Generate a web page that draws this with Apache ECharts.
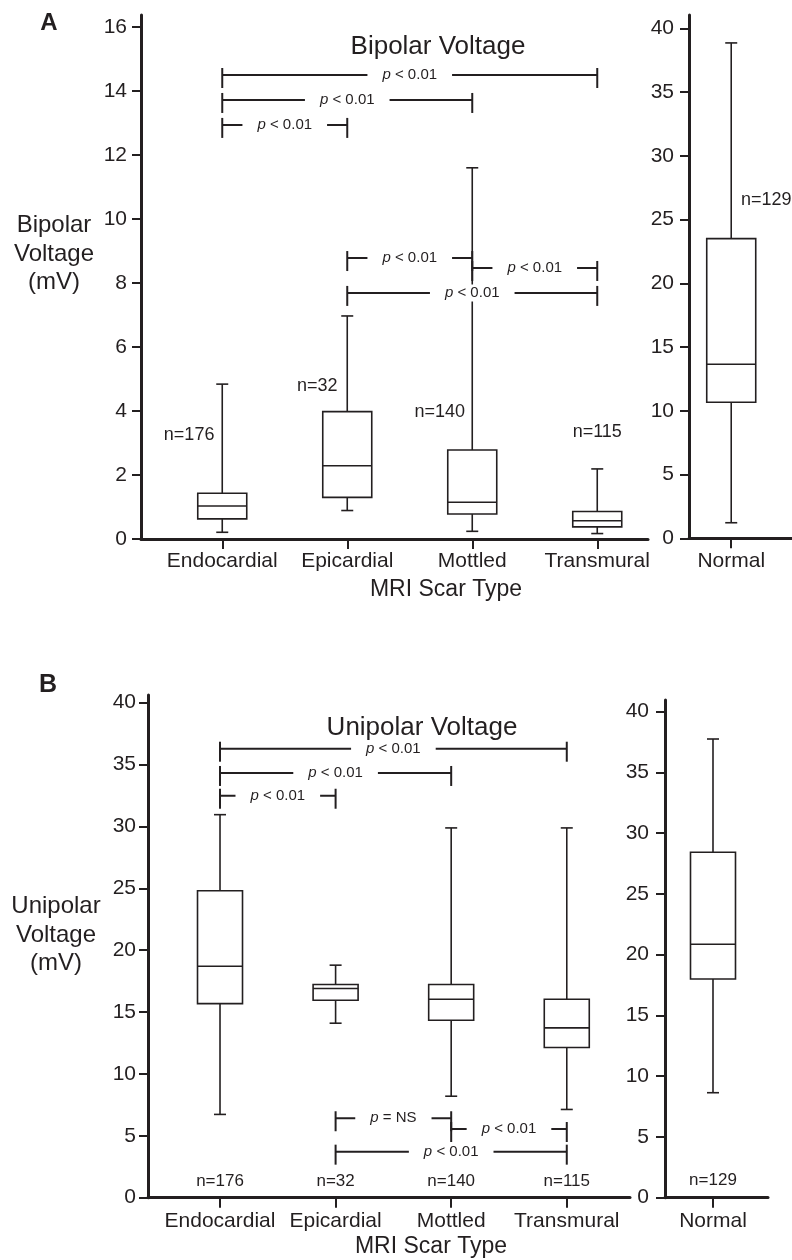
<!DOCTYPE html>
<html>
<head>
<meta charset="utf-8">
<script src="https://cdn.jsdelivr.net/npm/echarts@6/dist/echarts.min.js"></script>
<style>
html, body { margin: 0; padding: 0; background: #fff; }
#chart { width: 792px; height: 1260px; }
</style>
</head>
<body>
<div id="chart"></div>
<script>
// categories
const scarTypes = ['Endocardial', 'Epicardial', 'Mottled', 'Transmural']
const normalType = ['Normal']

// box values: [min, Q1, median, Q3, max]
const bipolarScar = [
    [0.21, 0.63, 1.03, 1.43, 4.84],
    [0.89, 1.30, 2.29, 3.98, 6.97],
    [0.24, 0.78, 1.15, 2.78, 11.6],
    [0.17, 0.38, 0.57, 0.86, 2.19]
]
const bipolarNormal = [1.22, 10.67, 13.65, 23.5, 38.85]

const unipolarScar = [
    [6.73, 15.68, 18.7, 24.8, 30.95],
    [14.1, 15.95, 16.91, 17.23, 18.79],
    [8.2, 14.34, 16.03, 17.23, 29.88],
    [7.13, 12.14, 13.72, 16.03, 29.88]
]
const unipolarNormal = [8.64, 18.0, 20.86, 28.43, 37.75]

// sample sizes
const scarCounts = [176, 32, 140, 115]
const normalCount = [129]

// pairwise tests: [from category, to category, bracket level, result]
const bipolarTests = [
    [1, 4, 14.5, '< 0.01'],
    [1, 3, 13.72, '< 0.01'],
    [1, 2, 12.94, '< 0.01'],
    [2, 3, 8.78, '< 0.01'],
    [3, 4, 8.47, '< 0.01'],
    [2, 4, 7.69, '< 0.01']
]
const unipolarTests = [
    [1, 4, 36.28, '< 0.01'],
    [1, 3, 34.32, '< 0.01'],
    [1, 2, 32.48, '< 0.01'],
    [2, 3, 6.42, '= NS'],
    [3, 4, 5.55, '< 0.01'],
    [2, 4, 3.72, '< 0.01']
]

// tick labels
const bipolarTicks = [0, 2, 4, 6, 8, 10, 12, 14, 16]
const voltageTicks = [0, 5, 10, 15, 20, 25, 30, 35, 40]

// layout: category positions on the x scales and where the n= labels sit
const scarPos = [1, 2, 3, 4]
const normalPosA = [0.41]
const normalPosB = [0.466]
const bipolarCountPos = [[0.735, 3.25], [1.76, 4.78], [2.74, 3.98], [4.0, 3.33]]
const bipolarNormalCountPos = [[0.75, 26.5]]
const unipolarCountPos = [[1, 1.3], [2, 1.3], [3, 1.3], [4, 1.3]]
const unipolarNormalCountPos = [[0.466, 1.46]]

const INK = '#231f20'
const FONT = '"Liberation Sans", Arial, Helvetica, sans-serif'

const boxItem = (boxWidth) => (params, api) => {
    const x = api.value(0)
    const p = [1, 2, 3, 4, 5].map(d => api.coord([x, api.value(d)]))
    const cx = p[0][0]
    const hw = boxWidth / 2
    const cap = 6
    const st = { stroke: INK, lineWidth: 1.6 }
    const seg = (x1, y1, x2, y2) => ({ type: 'line', shape: { x1, y1, x2, y2 }, style: st })
    return {
        type: 'group',
        children: [
            seg(cx, p[0][1], cx, p[1][1]),
            seg(cx, p[3][1], cx, p[4][1]),
            seg(cx - cap, p[0][1], cx + cap, p[0][1]),
            seg(cx - cap, p[4][1], cx + cap, p[4][1]),
            {
                type: 'rect',
                shape: { x: cx - hw, y: p[3][1], width: boxWidth, height: p[1][1] - p[3][1] },
                style: { fill: '#fff', stroke: INK, lineWidth: 1.6 }
            },
            seg(cx - hw, p[2][1], cx + hw, p[2][1])
        ]
    }
}

const bracketItem = (tests) => (params, api) => {
    const a = api.coord([api.value(0), api.value(2)])
    const b = api.coord([api.value(1), api.value(2)])
    const st = { stroke: INK, lineWidth: 2 }
    const seg = (x1, y1, x2, y2) => ({ type: 'line', shape: { x1, y1, x2, y2 }, style: st })
    return {
        type: 'group',
        children: [
            seg(a[0], a[1], b[0], b[1]),
            seg(a[0], a[1] - 7, a[0], a[1] + 13),
            seg(b[0], b[1] - 7, b[0], b[1] + 13),
            {
                type: 'text',
                x: (a[0] + b[0]) / 2,
                y: a[1],
                style: {
                    text: '{i|p} ' + tests[params.dataIndex][3],
                    fill: INK,
                    fontSize: 15,
                    fontFamily: FONT,
                    align: 'center',
                    verticalAlign: 'middle',
                    textAlign: 'center',
                    textVerticalAlign: 'middle',
                    backgroundColor: '#fff',
                    padding: [1, 15],
                    rich: { i: { fontStyle: 'italic', fontSize: 15, fontFamily: FONT, fill: INK } }
                }
            }
        ]
    }
}

const countItem = (counts, size) => (params, api) => {
    const p = api.coord([api.value(0), api.value(1)])
    return {
        type: 'text',
        x: p[0],
        y: p[1],
        style: {
            text: 'n=' + counts[params.dataIndex],
            fill: INK,
            fontSize: size,
            fontFamily: FONT,
            align: 'center',
            verticalAlign: 'middle',
            textAlign: 'center',
            textVerticalAlign: 'middle'
        }
    }
}

const xAxisCfg = (gridIndex, min, max, pos, names, margin) => ({
    type: 'value', gridIndex, min, max,
    axisLine: { onZero: false, lineStyle: { color: INK, width: 3 } },
    axisTick: { customValues: pos, length: 10, lineStyle: { color: INK, width: 2 } },
    axisLabel: {
        customValues: pos, margin, color: INK, fontSize: 21, fontFamily: FONT,
        formatter: v => {
            let k = 0
            pos.forEach((q, i) => { if (Math.abs(q - v) < Math.abs(pos[k] - v)) k = i })
            return names[k]
        }
    },
    splitLine: { show: false }
})

const yAxisCfg = (gridIndex, max, ticks, margin) => ({
    type: 'value', gridIndex, min: 0, max,
    axisLine: { show: true, onZero: false, lineStyle: { color: INK, width: 3 } },
    axisTick: { show: true, customValues: ticks, length: 9, lineStyle: { color: INK, width: 2 } },
    axisLabel: { customValues: ticks, margin, color: INK, fontSize: 21, fontFamily: FONT },
    splitLine: { show: false }
})

const txt = (x, y, text, font, lineHeight) => ({
    type: 'text', x, y,
    style: {
        text, font, fill: INK, lineHeight,
        align: 'center', verticalAlign: 'middle',
        textAlign: 'center', textVerticalAlign: 'middle'
    }
})

const chart = echarts.init(document.getElementById('chart'))

const option = {
    animation: false,
    backgroundColor: '#fff',
    grid: [
        { left: 141, top: 15, width: 507, height: 524 },
        { left: 689, top: 15, width: 103, height: 523.3 },
        { left: 148, top: 695, width: 482, height: 502.7 },
        { left: 665, top: 700, width: 103, height: 497.7 }
    ],
    xAxis: [
        xAxisCfg(0, 0.35, 4.406, scarPos, scarTypes, 12),
        xAxisCfg(1, 0, 1, normalPosA, normalType, 12),
        xAxisCfg(2, 0.377, 4.547, scarPos, scarTypes, 13),
        xAxisCfg(3, 0, 1, normalPosB, normalType, 13)
    ],
    yAxis: [
        yAxisCfg(0, 16.375, bipolarTicks, 14),
        yAxisCfg(1, 41.04, voltageTicks, 15),
        yAxisCfg(2, 40.62, voltageTicks, 12),
        yAxisCfg(3, 40.96, voltageTicks, 16)
    ],
    graphic: [
        txt(49, 23, 'A', 'bold 24px ' + FONT),
        txt(438, 47, 'Bipolar Voltage', '26px ' + FONT),
        txt(54, 254, 'Bipolar\nVoltage\n(mV)', '24px ' + FONT, 28.5),
        txt(446, 590, 'MRI Scar Type', '23px ' + FONT),
        txt(48, 685, 'B', 'bold 25px ' + FONT),
        txt(422, 728, 'Unipolar Voltage', '26px ' + FONT),
        txt(56, 935, 'Unipolar\nVoltage\n(mV)', '24px ' + FONT, 28.5),
        txt(431, 1247, 'MRI Scar Type', '23px ' + FONT)
    ],
    series: [
        {
            type: 'custom', xAxisIndex: 0, yAxisIndex: 0, renderItem: boxItem(49),
            encode: { x: 0, y: [1, 2, 3, 4, 5] },
            data: bipolarScar.map((b, i) => [scarPos[i], ...b])
        },
        {
            type: 'custom', xAxisIndex: 1, yAxisIndex: 1, renderItem: boxItem(49),
            encode: { x: 0, y: [1, 2, 3, 4, 5] },
            data: [[normalPosA[0], ...bipolarNormal]]
        },
        {
            type: 'custom', xAxisIndex: 0, yAxisIndex: 0, renderItem: bracketItem(bipolarTests),
            encode: { x: [0, 1], y: 2 },
            data: bipolarTests.map(t => t.slice(0, 3))
        },
        {
            type: 'custom', xAxisIndex: 0, yAxisIndex: 0, renderItem: countItem(scarCounts, 18),
            encode: { x: 0, y: 1 },
            data: bipolarCountPos
        },
        {
            type: 'custom', xAxisIndex: 1, yAxisIndex: 1, renderItem: countItem(normalCount, 18),
            encode: { x: 0, y: 1 },
            data: bipolarNormalCountPos
        },
        {
            type: 'custom', xAxisIndex: 2, yAxisIndex: 2, renderItem: boxItem(45),
            encode: { x: 0, y: [1, 2, 3, 4, 5] },
            data: unipolarScar.map((b, i) => [scarPos[i], ...b])
        },
        {
            type: 'custom', xAxisIndex: 3, yAxisIndex: 3, renderItem: boxItem(45),
            encode: { x: 0, y: [1, 2, 3, 4, 5] },
            data: [[normalPosB[0], ...unipolarNormal]]
        },
        {
            type: 'custom', xAxisIndex: 2, yAxisIndex: 2, renderItem: bracketItem(unipolarTests),
            encode: { x: [0, 1], y: 2 },
            data: unipolarTests.map(t => t.slice(0, 3))
        },
        {
            type: 'custom', xAxisIndex: 2, yAxisIndex: 2, renderItem: countItem(scarCounts, 17),
            encode: { x: 0, y: 1 },
            data: unipolarCountPos
        },
        {
            type: 'custom', xAxisIndex: 3, yAxisIndex: 3, renderItem: countItem(normalCount, 17),
            encode: { x: 0, y: 1 },
            data: unipolarNormalCountPos
        }
    ]
}

chart.setOption(option)
window.addEventListener('resize', () => chart.resize())
</script>
</body>
</html>
